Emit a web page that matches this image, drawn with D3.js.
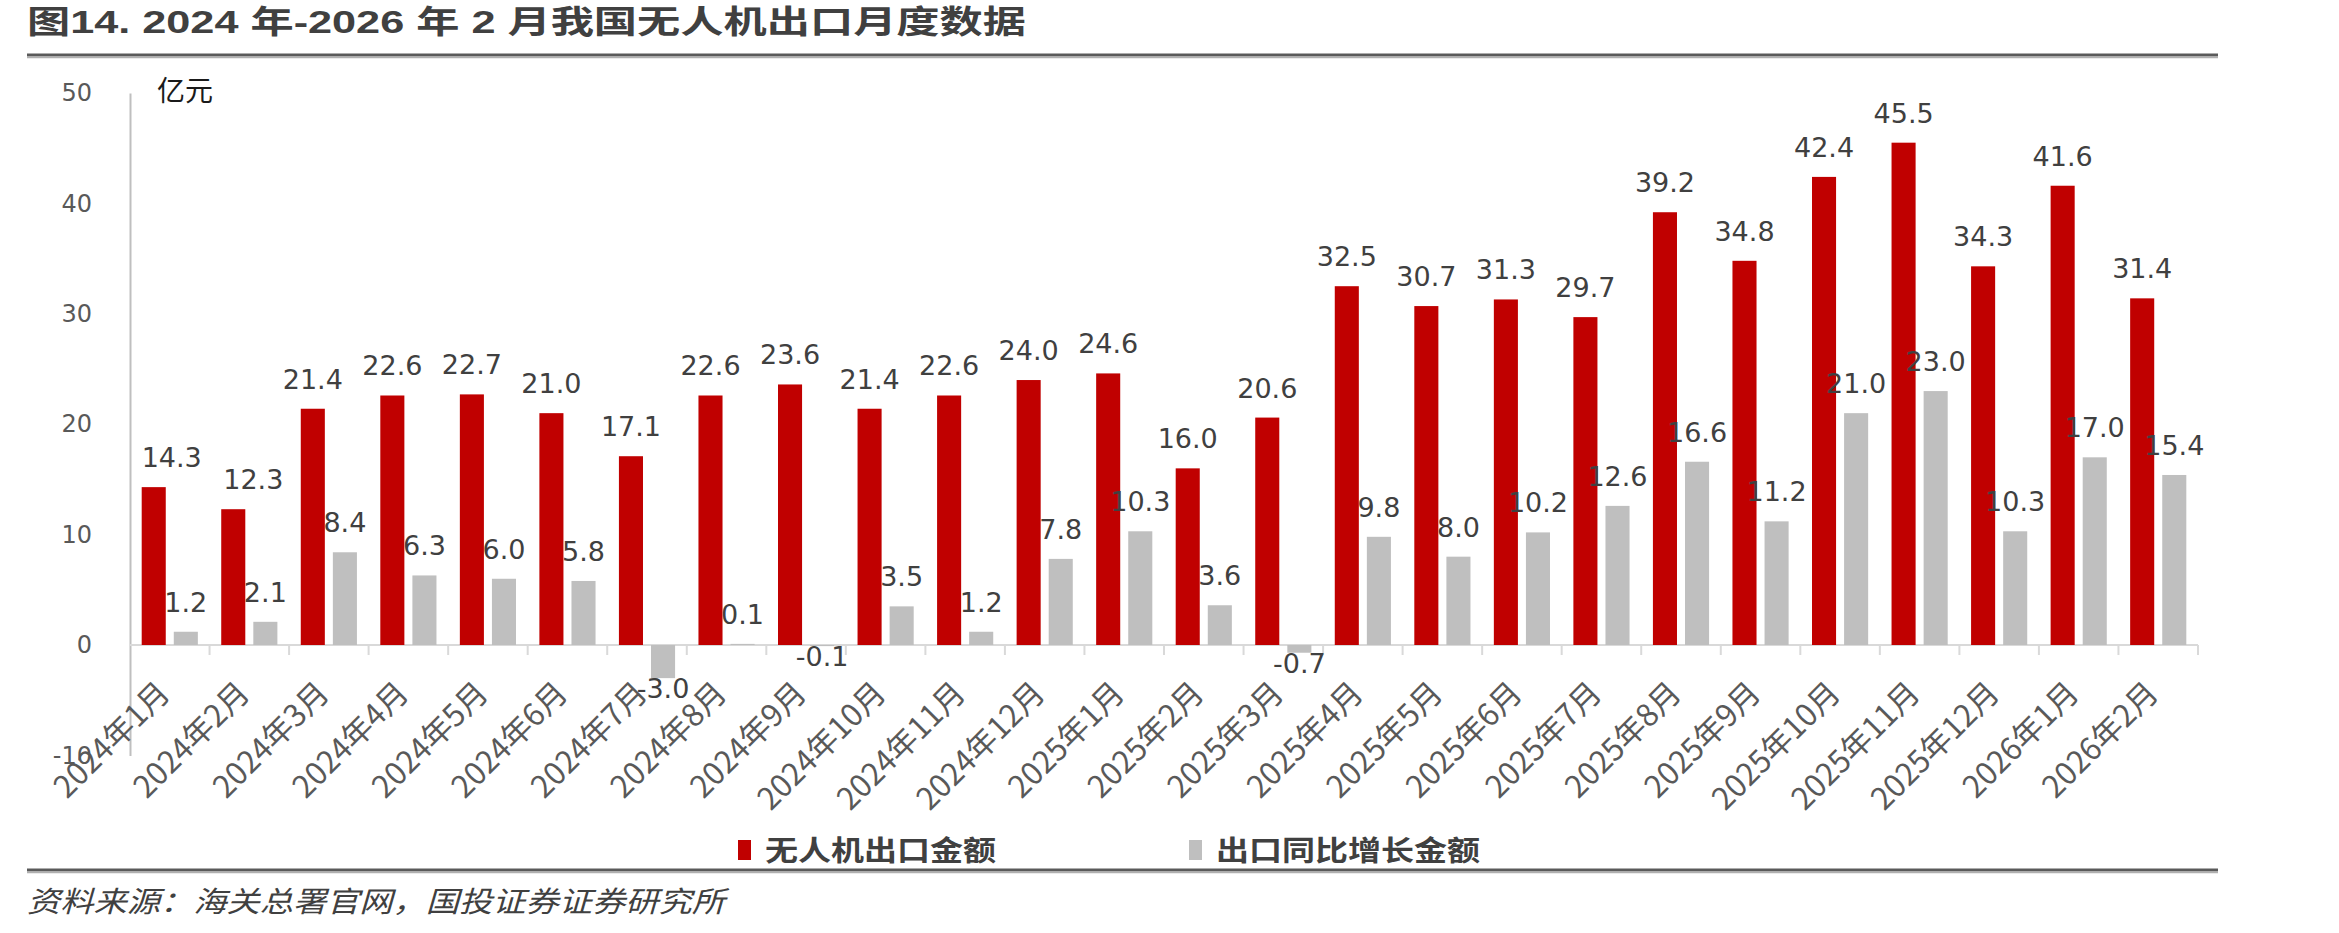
<!DOCTYPE html>
<meta charset="utf-8">
<style>
body { margin: 0; background: #fff; }
svg { display: block; font-family: "DejaVu Sans", sans-serif; }
.val { font-size: 27px; fill: #404040; text-anchor: middle; }
.axis--y path { stroke: #BFBFBF; stroke-width: 2px; }
.axis--y text { font-family: "DejaVu Sans", sans-serif; font-size: 24px; fill: #595959; }
.xlab { font-family: "Noto Sans CJK SC", sans-serif; font-size: 31px; fill: #595959; text-anchor: end; }
.cjk { font-family: "Liberation Sans", "Noto Sans CJK SC", sans-serif; }
</style>
<svg width="2339" height="933"></svg>
<script src="https://d3js.org/d3.v7.min.js"></script>
<script>

var months = ["2024年1月", "2024年2月", "2024年3月", "2024年4月", "2024年5月", "2024年6月",
  "2024年7月", "2024年8月", "2024年9月", "2024年10月", "2024年11月", "2024年12月",
  "2025年1月", "2025年2月", "2025年3月", "2025年4月", "2025年5月", "2025年6月",
  "2025年7月", "2025年8月", "2025年9月", "2025年10月", "2025年11月", "2025年12月",
  "2026年1月", "2026年2月"];

// 无人机出口金额（亿元）
var exportValue = [14.3, 12.3, 21.4, 22.6, 22.7, 21.0, 17.1, 22.6, 23.6, 21.4, 22.6, 24.0,
  24.6, 16.0, 20.6, 32.5, 30.7, 31.3, 29.7, 39.2, 34.8, 42.4, 45.5, 34.3, 41.6, 31.4];

// 出口同比增长金额（亿元）
var yoyGrowth = [1.2, 2.1, 8.4, 6.3, 6.0, 5.8, -3.0, 0.1, -0.1, 3.5, 1.2, 7.8,
  10.3, 3.6, -0.7, 9.8, 8.0, 10.2, 12.6, 16.6, 11.2, 21.0, 23.0, 10.3, 17.0, 15.4];

var seriesNames = ["无人机出口金额", "出口同比增长金额"];
var yTicks = [-10, 0, 10, 20, 30, 40, 50];

var svg = d3.select("svg"),
    left = 130, right = 2198;

var rows = months.map(function(m, i) {
  return {month: m, values: [
    {key: seriesNames[0], v: exportValue[i]},
    {key: seriesNames[1], v: yoyGrowth[i]}
  ]};
});

var x0 = d3.scaleBand().domain(months).range([left, right])
    .paddingInner(0.294).paddingOuter(0.147);
var x1 = d3.scaleBand().domain(seriesNames).range([0, x0.bandwidth()]).paddingInner(0.25);
var y = d3.scaleLinear().domain([-10, 50]).range([755.4, 93]);
var color = d3.scaleOrdinal().domain(seriesNames).range(["#C00000", "#BFBFBF"]);

// label nudges where the original moved a label sideways
var nudge = {"0-0": 18, "1-0": 20};

// title
svg.append("text")
    .attr("class", "cjk")
    .attr("x", 27).attr("y", 33)
    .attr("font-size", 32).attr("font-weight", "bold").attr("fill", "#404040")
    .attr("textLength", 999).attr("lengthAdjust", "spacingAndGlyphs")
    .text("图14. 2024 年-2026 年 2 月我国无人机出口月度数据");

function rule(yy) {
  svg.append("line").attr("x1", 27).attr("x2", 2218).attr("y1", yy).attr("y2", yy)
      .attr("stroke", "#5a5a5a").attr("stroke-width", 3);
  svg.append("line").attr("x1", 27).attr("x2", 2218).attr("y1", yy + 2.5).attr("y2", yy + 2.5)
      .attr("stroke", "#b0b0b0").attr("stroke-width", 1.5);
}
rule(55);
rule(870);

// y axis
svg.append("g")
    .attr("class", "axis axis--y")
    .attr("transform", "translate(" + left + ",0)")
    .call(d3.axisLeft(y).tickValues(yTicks).tickSize(0).tickSizeOuter(0).tickPadding(38)
      .tickFormat(function(d) { return String(d); }))
    .call(function(g) { g.selectAll(".tick line").remove(); });

svg.append("text")
    .attr("x", 157).attr("y", 101)
    .attr("font-family", "Noto Sans CJK SC").attr("font-size", 28).attr("fill", "#1a1a1a")
    .text("亿元");

// x axis line + boundary ticks
var zero = y(0), step = x0.step();
svg.append("line").attr("x1", left).attr("x2", right).attr("y1", zero).attr("y2", zero)
    .attr("stroke", "#D9D9D9").attr("stroke-width", 2);
svg.selectAll(".xtick")
    .data(months)
    .enter().append("line")
      .attr("class", "xtick")
      .attr("x1", function(d) { return x0(d) - step * 0.147 + step; })
      .attr("x2", function(d) { return x0(d) - step * 0.147 + step; })
      .attr("y1", zero).attr("y2", zero + 10)
      .attr("stroke", "#D9D9D9").attr("stroke-width", 2);

// bars
var grp = svg.selectAll(".grp")
    .data(rows)
    .enter().append("g")
      .attr("class", "grp")
      .attr("transform", function(d) { return "translate(" + x0(d.month) + ",0)"; });

grp.selectAll("rect")
    .data(function(d) { return d.values; })
    .enter().append("rect")
      .attr("x", function(d) { return x1(d.key); })
      .attr("y", function(d) { return y(Math.max(0, d.v)); })
      .attr("width", x1.bandwidth())
      .attr("height", function(d) { return Math.abs(y(d.v) - y(0)); })
      .attr("fill", function(d) { return color(d.key); });

grp.each(function(row, i) {
  d3.select(this).selectAll(".val")
    .data(row.values)
    .enter().append("text")
      .attr("class", "val")
      .attr("x", function(d, j) { return x1(d.key) + x1.bandwidth() / 2 + (nudge[i + "-" + j] || 0); })
      .attr("y", function(d) { return d.v >= 0 ? y(d.v) - 20 : y(d.v) + 20; })
      .text(function(d) { return d.v.toFixed(1); });
});

// category labels
svg.selectAll(".xlab")
    .data(months)
    .enter().append("text")
      .attr("class", "xlab")
      .attr("transform", function(d) {
        return "translate(" + (x0(d) - step * 0.147 + step / 2 + 2) + "," + (zero + 50) + ") rotate(-45)";
      })
      .text(function(d) { return d; });

// legend
var legend = [
  {name: seriesNames[0], x: 738, len: 231},
  {name: seriesNames[1], x: 1189, len: 264}
];
legend.forEach(function(l) {
  svg.append("rect").attr("x", l.x).attr("y", 840).attr("width", 13).attr("height", 20)
      .attr("fill", color(l.name));
  svg.append("text")
      .attr("x", l.x + 27).attr("y", 861)
      .attr("font-family", "Noto Sans CJK SC").attr("font-size", 28).attr("font-weight", "bold")
      .attr("fill", "#404040")
      .attr("textLength", l.len).attr("lengthAdjust", "spacingAndGlyphs")
      .text(l.name);
});

// source
svg.append("text")
    .attr("x", 27).attr("y", 912)
    .attr("font-family", "Noto Sans CJK SC").attr("font-size", 29).attr("font-style", "italic")
    .attr("fill", "#404040")
    .attr("textLength", 698).attr("lengthAdjust", "spacingAndGlyphs")
    .text("资料来源：海关总署官网，国投证券证券研究所");

</script>
